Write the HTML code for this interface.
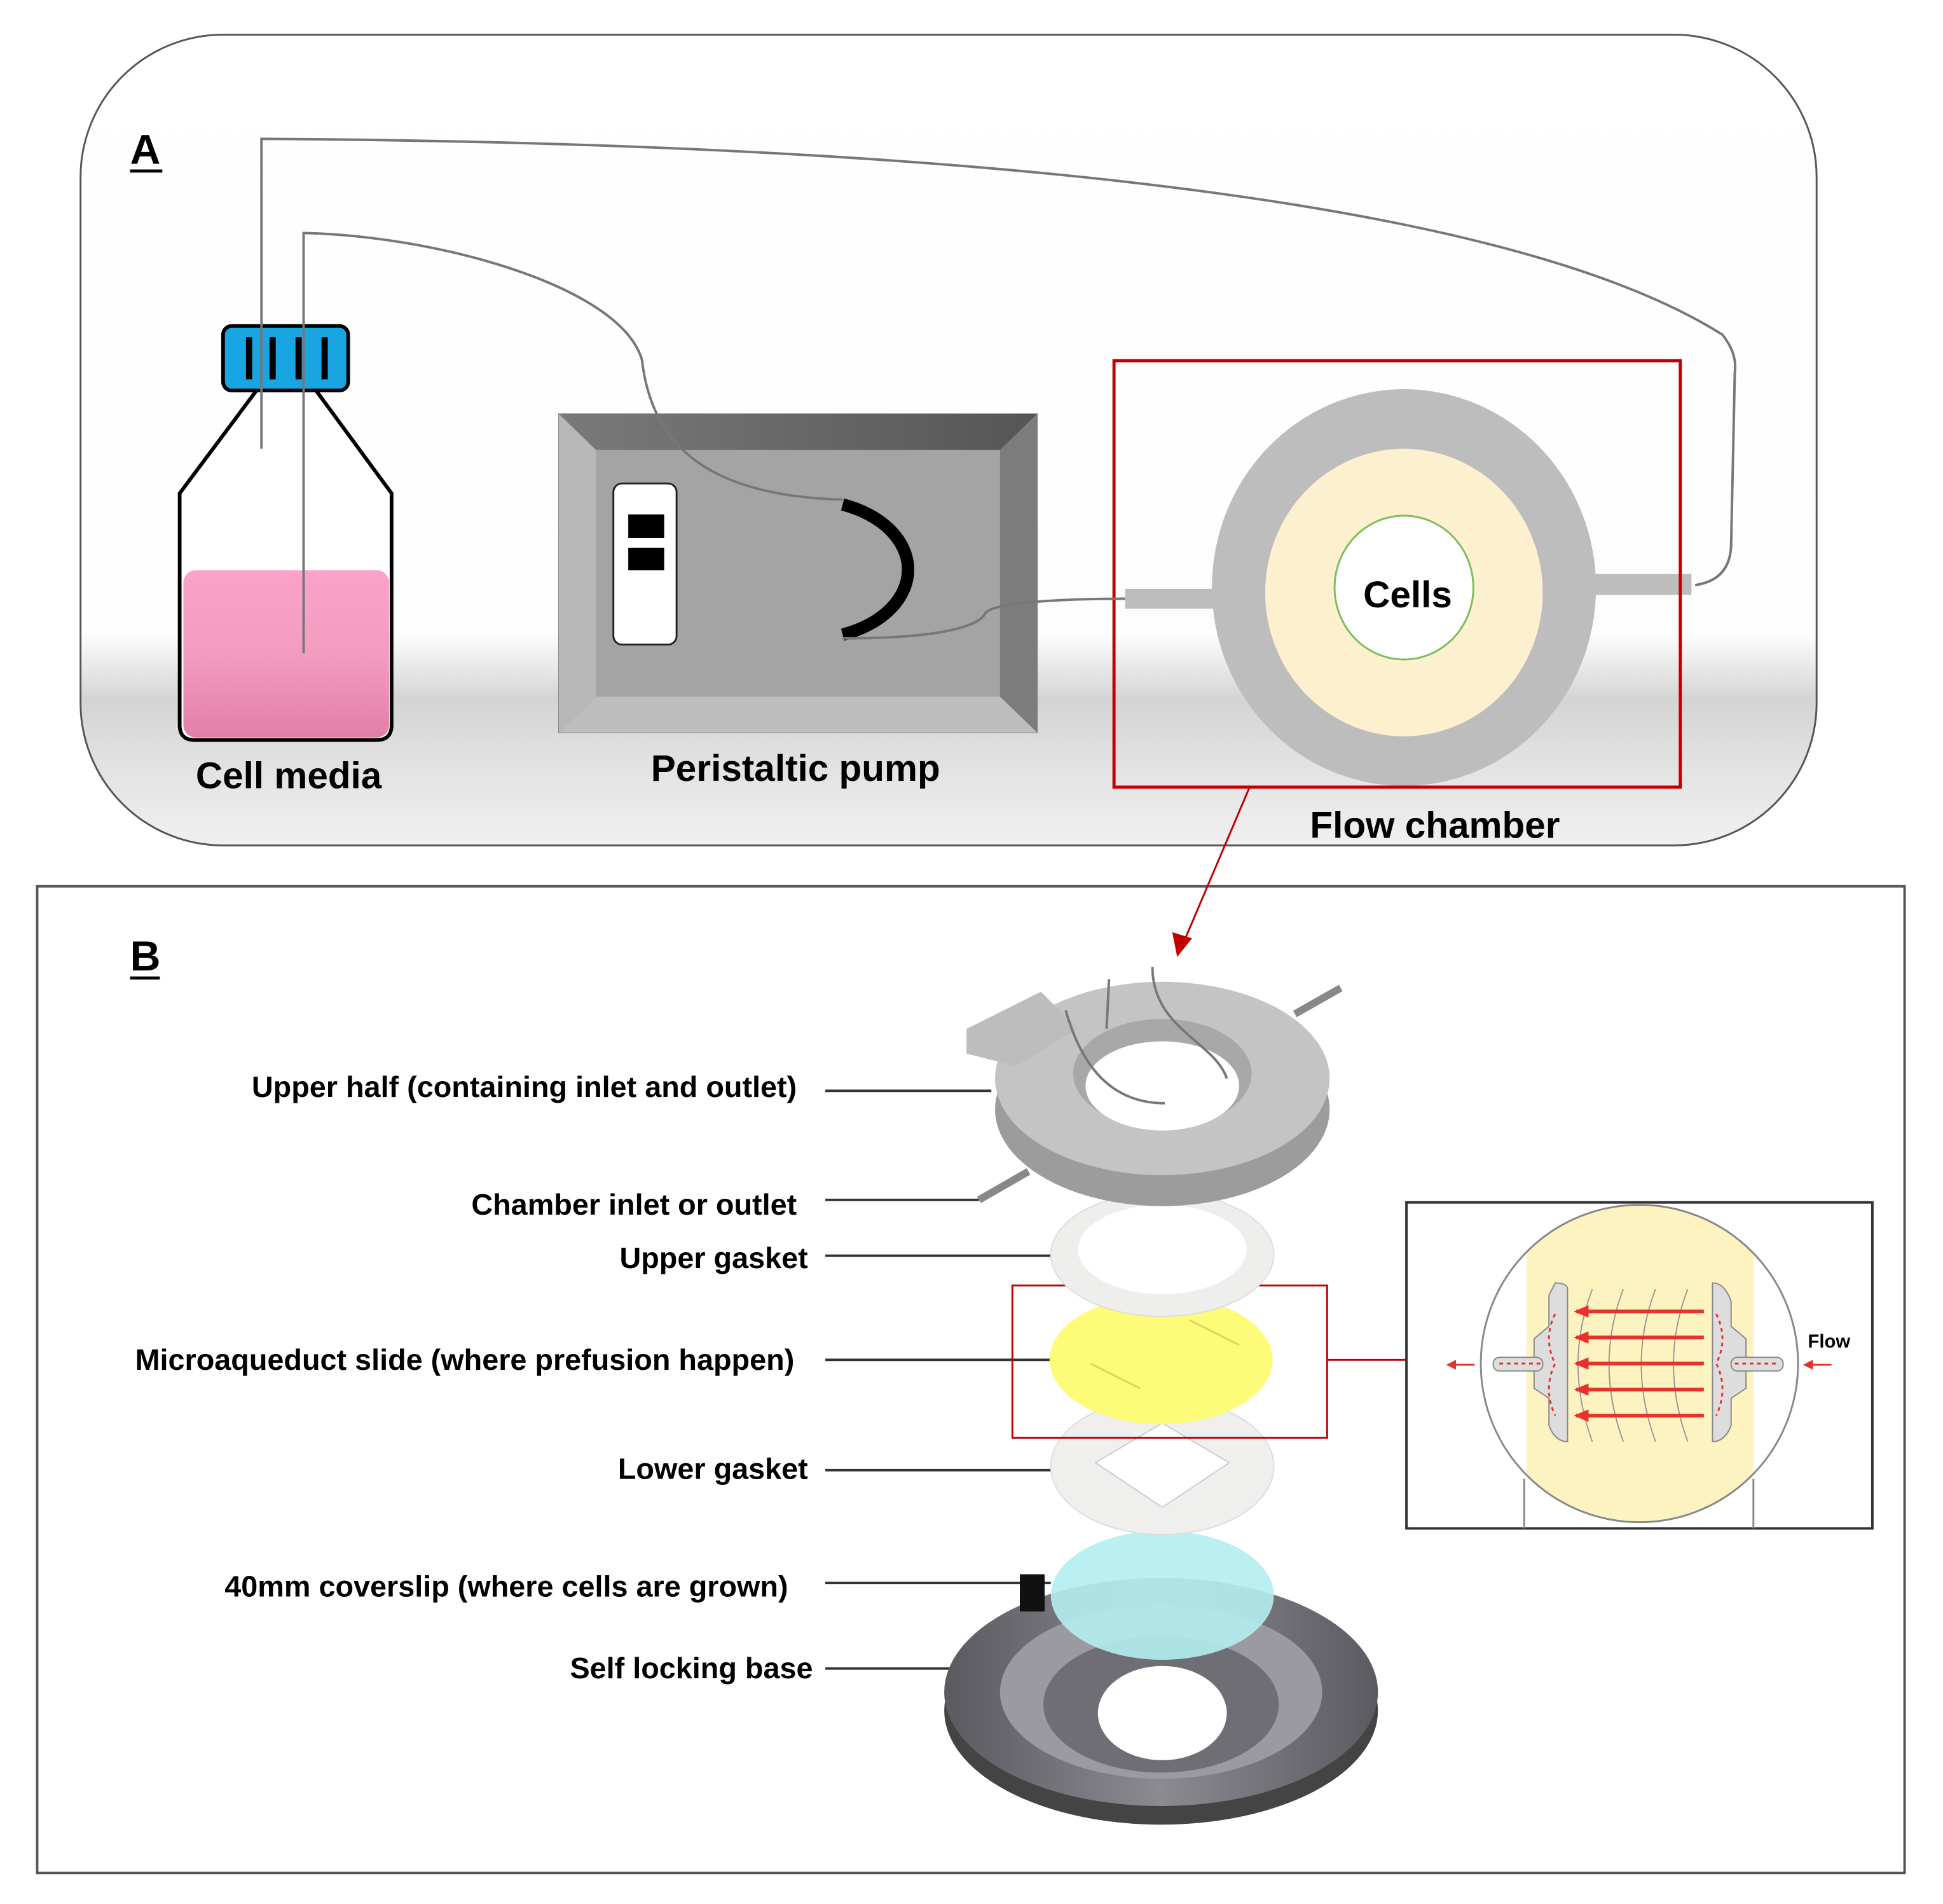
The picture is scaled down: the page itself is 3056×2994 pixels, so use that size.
<!DOCTYPE html>
<html><head><meta charset="utf-8"><style>
html,body{margin:0;padding:0;background:#fff;}
svg{display:block;}
text{font-family:"Liberation Sans",sans-serif;font-weight:bold;fill:#000;}
</style></head><body>
<svg width="3056" height="2994" viewBox="0 0 1568 1536" preserveAspectRatio="none" xmlns="http://www.w3.org/2000/svg">
<defs>
<linearGradient id="bgA" x1="0" y1="0" x2="0" y2="1">
<stop offset="0" stop-color="#ffffff"/><stop offset="0.74" stop-color="#fdfdfd"/>
<stop offset="0.82" stop-color="#d4d4d4"/><stop offset="0.9" stop-color="#e2e2e2"/><stop offset="1" stop-color="#f0f0f0"/>
</linearGradient>
<linearGradient id="pink" x1="0" y1="0" x2="0" y2="1">
<stop offset="0" stop-color="#fca2c8"/><stop offset="0.5" stop-color="#f49cc0"/><stop offset="1" stop-color="#e27fa6"/>
</linearGradient>
<linearGradient id="ptop" x1="0" y1="0" x2="1" y2="0">
<stop offset="0" stop-color="#7a7a7a"/><stop offset="1" stop-color="#555"/>
</linearGradient>
<linearGradient id="base" x1="0" y1="0" x2="1" y2="0">
<stop offset="0" stop-color="#5a5a60"/><stop offset="0.5" stop-color="#8a8a90"/><stop offset="1" stop-color="#5a5a60"/>
</linearGradient>
<clipPath id="ic"><circle cx="1323" cy="1100" r="128"/></clipPath>
<marker id="ar" markerWidth="12" markerHeight="10" refX="2" refY="5" orient="auto" markerUnits="userSpaceOnUse"><path d="M12,0 L0,5 L12,10 z" fill="#e8312a"/></marker>
</defs>

<!-- Panel A -->
<rect x="65" y="28" width="1401" height="654" rx="115" fill="url(#bgA)" stroke="#555" stroke-width="1.5"/>
<text x="105" y="132" font-size="34">A</text>
<line x1="105" y1="138" x2="131" y2="138" stroke="#000" stroke-width="2.5"/>

<!-- bottle -->
<path d="M207,315 L145,398 L145,585 Q145,597 157,597 L304,597 Q316,597 316,585 L316,398 L255,315" fill="#fff" stroke="#000" stroke-width="3"/>
<rect x="148" y="460" width="166" height="135" rx="10" fill="url(#pink)"/>
<rect x="180" y="263" width="101" height="52" rx="7" fill="#19a4e2" stroke="#000" stroke-width="3"/>
<g stroke="#000" stroke-width="5"><line x1="201" y1="272" x2="201" y2="306"/><line x1="220" y1="272" x2="220" y2="306"/><line x1="241" y1="272" x2="241" y2="306"/><line x1="262" y1="272" x2="262" y2="306"/></g>
<text x="233" y="636" font-size="30" text-anchor="middle">Cell media</text>

<!-- pump -->
<rect x="451" y="334" width="386" height="257" fill="#a4a4a4" stroke="#888"/>
<polygon points="451,334 837,334 807,363 481,363" fill="url(#ptop)"/>
<polygon points="807,363 837,334 837,591 807,562" fill="#7c7c7c"/>
<polygon points="451,334 481,363 481,562 451,591" fill="#b8b8b8"/>
<polygon points="481,562 807,562 837,591 451,591" fill="#bdbdbd"/>
<rect x="495" y="390" width="51" height="130" rx="7" fill="#fff" stroke="#222" stroke-width="1.5"/>
<rect x="507" y="415" width="29" height="19" fill="#000"/><rect x="507" y="442" width="29" height="18" fill="#000"/>
<path d="M680,407 A81,56 0 0 1 680,512" fill="none" stroke="#000" stroke-width="10"/>
<text x="642" y="630" font-size="30" text-anchor="middle">Peristaltic pump</text>

<!-- flow chamber -->
<rect x="908" y="475" width="74" height="16" fill="#bdbdbd"/>
<rect x="1284" y="463" width="81" height="17" fill="#bdbdbd"/>
<ellipse cx="1133" cy="474" rx="155" ry="160" fill="#bdbdbd"/>
<ellipse cx="1133" cy="478" rx="112" ry="116" fill="#fdf0cf"/>
<ellipse cx="1133" cy="474" rx="56" ry="58" fill="#fff" stroke="#7cbd5a" stroke-width="1.5"/>
<text x="1136" y="490" font-size="30" text-anchor="middle">Cells</text>
<rect x="899" y="291" width="457" height="344" fill="none" stroke="#c00000" stroke-width="2.5"/>
<text x="1158" y="676" font-size="30" text-anchor="middle">Flow chamber</text>

<!-- tubing -->
<g fill="none" stroke="#777" stroke-width="2">
<path d="M211,362 L211,112 C700,115 1200,150 1390,270 Q1402,285 1400,300 L1397,440 Q1396,468 1368,472"/>
<path d="M245,527 L245,188 C350,190 500,230 518,290 C525,350 560,400 680,403"/>
<path d="M680,515 C760,515 790,505 795,495 C800,485 870,483 908,483"/>
</g>

<!-- Panel B -->
<rect x="30" y="715" width="1507" height="796" fill="#fff" stroke="#555" stroke-width="2"/>
<text x="105" y="783" font-size="34">B</text>
<line x1="105" y1="789" x2="129" y2="789" stroke="#000" stroke-width="2.5"/>
<line x1="1008" y1="636" x2="957" y2="756" stroke="#c00000" stroke-width="1.5"/>
<polygon points="950,772 946,752 962,757" fill="#c00000"/>

<!-- labels -->
<g font-size="24" text-anchor="end">
<text x="643" y="885">Upper half (containing inlet and outlet)</text>
<text x="643" y="980">Chamber inlet or outlet</text>
<text x="652" y="1023">Upper gasket</text>
<text x="641" y="1105">Microaqueduct slide (where prefusion happen)</text>
<text x="652" y="1193">Lower gasket</text>
<text x="636" y="1288">40mm coverslip (where cells are grown)</text>
<text x="656" y="1354">Self locking base</text>
</g>
<g stroke="#333" stroke-width="2">
<line x1="666" y1="880" x2="800" y2="880"/>
<line x1="666" y1="968" x2="790" y2="968"/>
<line x1="666" y1="1013" x2="850" y2="1013"/>
<line x1="666" y1="1097" x2="850" y2="1097"/>
<line x1="666" y1="1186" x2="850" y2="1186"/>
<line x1="666" y1="1277" x2="848" y2="1277"/>
<line x1="666" y1="1346" x2="770" y2="1346"/>
</g>

<!-- base -->
<ellipse cx="937" cy="1380" rx="175" ry="92" fill="#444"/>
<ellipse cx="937" cy="1365" rx="175" ry="92" fill="url(#base)"/>
<ellipse cx="937" cy="1365" rx="130" ry="70" fill="#9a9aa0"/>
<ellipse cx="937" cy="1375" rx="95" ry="55" fill="#6e6e74"/>
<ellipse cx="938" cy="1382" rx="52" ry="38" fill="#fff"/>
<rect x="920" y="1400" width="30" height="14" fill="#fff"/>
<rect x="823" y="1270" width="20" height="30" fill="#111"/>
<ellipse cx="938" cy="1287" rx="90" ry="52" fill="#b2eef0" opacity="0.9"/>

<!-- lower gasket -->
<ellipse cx="938" cy="1183" rx="90" ry="55" fill="#efefed" stroke="#ddd"/>
<polygon points="938,1148 992,1180 938,1216 884,1180" fill="#fff" stroke="#ccc"/>

<!-- yellow slide -->
<ellipse cx="937" cy="1097" rx="90" ry="52" fill="#fdfb78"/>
<g stroke="#d8d860" stroke-width="1.5"><line x1="880" y1="1100" x2="920" y2="1120"/><line x1="960" y1="1065" x2="1000" y2="1085"/></g>
<rect x="817" y="1037" width="254" height="123" fill="none" stroke="#c00000" stroke-width="1.5"/>
<line x1="1071" y1="1097" x2="1135" y2="1097" stroke="#c00000" stroke-width="1.5"/>

<!-- upper gasket -->
<ellipse cx="938" cy="1012" rx="90" ry="50" fill="#eeeeec" stroke="#ddd"/>
<ellipse cx="938" cy="1008" rx="68" ry="36" fill="#fff"/>

<!-- upper half -->
<line x1="790" y1="968" x2="830" y2="945" stroke="#888" stroke-width="6"/>
<line x1="1045" y1="818" x2="1082" y2="797" stroke="#888" stroke-width="6"/>
<ellipse cx="938" cy="895" rx="135" ry="78" fill="#9c9c9c"/>
<ellipse cx="938" cy="870" rx="135" ry="78" fill="#c4c4c4"/>
<polygon points="780,830 840,800 870,830 820,860 780,850" fill="#bdbdbd"/>
<ellipse cx="938" cy="866" rx="72" ry="44" fill="#a8a8a8"/>
<ellipse cx="938" cy="876" rx="62" ry="36" fill="#fff"/>
<g fill="none" stroke="#777" stroke-width="2"><path d="M930,780 C930,830 980,840 990,870"/><path d="M895,790 L893,830"/><path d="M860,815 C870,850 890,890 940,890"/></g>

<!-- inset -->
<rect x="1135" y="970" width="376" height="263" fill="#fff" stroke="#333" stroke-width="2"/>
<g clip-path="url(#ic)"><rect x="1100" y="960" width="400" height="280" fill="#fff"/><rect x="1232" y="960" width="183" height="280" fill="#fdf3c1"/></g>
<circle cx="1323" cy="1100" r="128" fill="none" stroke="#888" stroke-width="1.5"/>
<g stroke="#888" stroke-width="1.5"><line x1="1230" y1="1193" x2="1230" y2="1233"/><line x1="1415" y1="1193" x2="1415" y2="1233"/></g>
<g fill="none" stroke="#999" stroke-width="1"><path d="M1285,1040 Q1262,1100 1285,1163"/><path d="M1310,1040 Q1287,1100 1310,1163"/><path d="M1336,1040 Q1313,1100 1336,1163"/><path d="M1362,1040 Q1339,1100 1362,1163"/></g>
<path d="M1255,1035 Q1265,1035 1265,1040 L1265,1163 Q1255,1163 1250,1150 L1250,1128 L1238,1120 L1238,1080 L1250,1070 L1250,1045 Z" fill="#ddd" stroke="#888"/>
<path d="M1382,1035 Q1392,1035 1397,1050 L1397,1070 L1409,1080 L1409,1120 L1397,1128 L1397,1150 Q1392,1163 1382,1163 Z" fill="#ddd" stroke="#888"/>
<rect x="1205" y="1095" width="40" height="11" rx="5" fill="#ddd" stroke="#888"/>
<rect x="1397" y="1095" width="42" height="11" rx="5" fill="#ddd" stroke="#888"/>
<g stroke="#e8312a" stroke-width="3" marker-start="url(#ar)">
<line x1="1272" y1="1058" x2="1375" y2="1058"/><line x1="1272" y1="1079" x2="1375" y2="1079"/><line x1="1272" y1="1100" x2="1375" y2="1100"/><line x1="1272" y1="1121" x2="1375" y2="1121"/><line x1="1272" y1="1142" x2="1375" y2="1142"/>
</g>
<g stroke="#e8312a" stroke-width="1.5" stroke-dasharray="3,3" fill="none">
<line x1="1210" y1="1100" x2="1245" y2="1100"/><line x1="1400" y1="1100" x2="1436" y2="1100"/>
<path d="M1255,1060 Q1245,1080 1255,1100 Q1245,1120 1255,1142"/><path d="M1385,1060 Q1395,1080 1385,1100 Q1395,1120 1385,1142"/>
</g>
<g stroke="#e8312a" stroke-width="1.5"><line x1="1190" y1="1101" x2="1170" y2="1101"/><line x1="1478" y1="1101" x2="1458" y2="1101"/></g>
<polygon points="1167,1101 1175,1097 1175,1105" fill="#e8312a"/><polygon points="1455,1101 1463,1097 1463,1105" fill="#e8312a"/>
<text x="1459" y="1087" font-size="15">Flow</text>
</svg>
</body></html>
